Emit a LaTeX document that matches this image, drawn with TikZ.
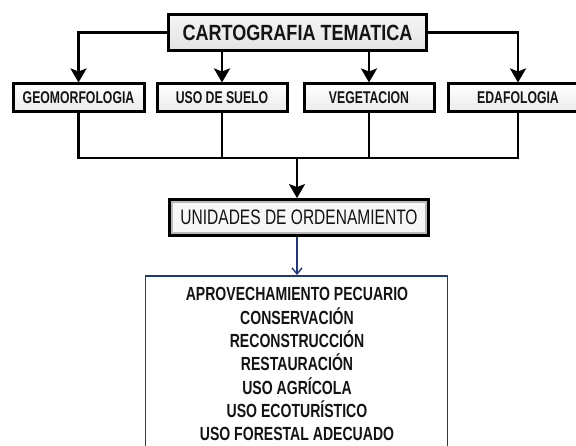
\documentclass[tikz,border=0pt]{standalone}
\usepackage{fontspec}
\setmainfont{Liberation Sans}
\newfontfamily\titlefont[FakeStretch=0.82]{Liberation Sans}
\newfontfamily\rowfont[FakeStretch=0.72]{Liberation Sans}
\newfontfamily\unifont[FakeStretch=0.74]{Liberation Sans}
\newfontfamily\listfont[FakeStretch=0.74]{Liberation Sans}
\usetikzlibrary{arrows.meta}
\definecolor{navy}{RGB}{31,56,130}
\definecolor{txt}{RGB}{20,20,20}
\begin{document}
\begin{tikzpicture}[x=1pt,y=-1pt,
  conn/.style={draw=black, line width=2.6pt},
  arr/.style={conn, -{Stealth[length=14pt,width=16pt,inset=3pt]}},
  topbox/.style={draw=black, line width=3pt, inner sep=0pt, top color=gray!8, bottom color=gray!22,
     minimum width=258pt, minimum height=36pt, text=txt, font=\titlefont\fontsize{22}{22}\selectfont\bfseries},
  rowbox/.style={draw=black, line width=3pt, inner sep=0pt, top color=white, bottom color=gray!16,
     minimum height=28pt, text=txt, font=\rowfont\fontsize{17}{17}\selectfont\bfseries},
  unibox/.style={draw=black, line width=2.8pt, inner sep=0pt, fill=gray!6,
     minimum width=259pt, minimum height=36pt, text=txt, font=\unifont\fontsize{21}{21}\selectfont},
  bluebox/.style={draw=navy, line width=1.8pt, fill=white, inner sep=0pt,
     minimum width=302pt, minimum height=210pt},
  bluearr/.style={draw=navy, line width=1.6pt, -{Straight Barb[length=6pt,width=10pt,line width=1.4pt]}},
  listtext/.style={inner sep=0pt, text height=13.6pt, text depth=0pt, text=txt,
     font=\listfont\fontsize{19}{19}\selectfont\bfseries}
]
\useasboundingbox (0,0) rectangle (576,446);

\node[topbox] (top) at (297.5,32.5) {CARTOGRAFIA TEMATICA};

\node[rowbox, minimum width=131pt] (geo) at (78.5,98) {GEOMORFOLOGIA};
\node[rowbox, minimum width=130pt] (uso) at (222,98) {USO DE SUELO};
\node[rowbox, minimum width=130pt] (veg) at (369,98) {VEGETACION};
\node[rowbox, minimum width=140pt] (eda) at (518,98) {EDAFOLOGIA};

\draw[arr] (top.west) -| (geo.north);
\draw[arr] (top.east) -| (eda.north);
\draw[arr] (top.south -| uso.north) -- (uso.north);
\draw[arr] (top.south -| veg.north) -- (veg.north);

\coordinate (j) at (297,158);
\draw[conn] (geo.south) |- (j) -| (eda.south);
\draw[conn] (uso.south) -- (uso.south |- j);
\draw[conn] (veg.south) -- (veg.south |- j);

\node[unibox] (uni) at (299,217.5) {UNIDADES DE ORDENAMIENTO};
\draw[gray!55, line width=2.6pt] ([shift={(3.8,3.8)}]uni.north west) rectangle ([shift={(-3.8,-3.8)}]uni.south east);
\draw[arr] (j) -- (j |- uni.north);

\node[bluebox, anchor=north] (lst) at (296.5,275) {};
\draw[bluearr] (j |- uni.south) -- (j |- lst.north);

\foreach \t [count=\i] in {APROVECHAMIENTO PECUARIO, CONSERVACIÓN, RECONSTRUCCIÓN, RESTAURACIÓN, USO AGRÍCOLA, USO ECOTURÍSTICO, USO FORESTAL ADECUADO}
  \node[listtext] (l\i) at (297,{294+(\i-1)*23.33}) {\t};
\end{tikzpicture}
\end{document}
